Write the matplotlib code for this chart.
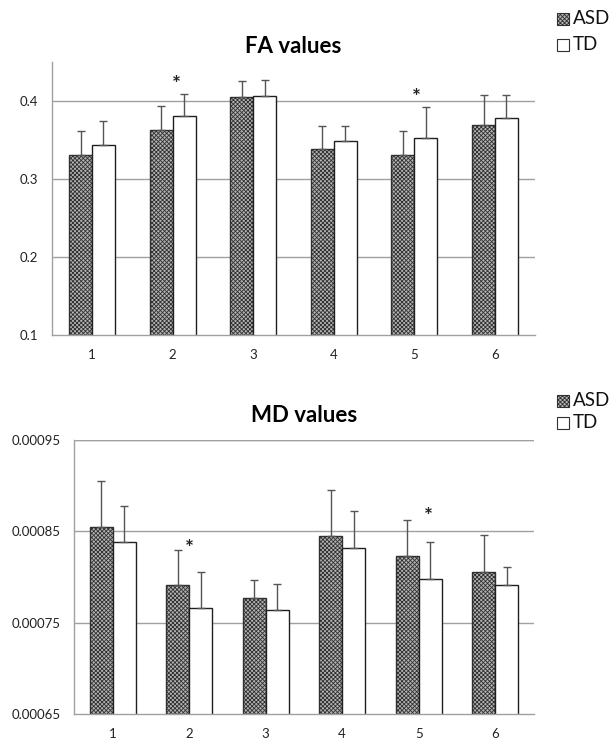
import matplotlib
matplotlib.use("Agg")
import matplotlib.pyplot as plt
from matplotlib.patches import Rectangle
import numpy as np

plt.rcParams['font.family'] = ['Lato', 'DejaVu Sans']
plt.rcParams['hatch.linewidth'] = 0.6

categories = ['1', '2', '3', '4', '5', '6']

fa_asd = [0.331, 0.362, 0.405, 0.338, 0.331, 0.369]
fa_asd_err = [0.030, 0.031, 0.020, 0.030, 0.030, 0.039]
fa_td = [0.344, 0.380, 0.406, 0.348, 0.352, 0.378]
fa_td_err = [0.030, 0.029, 0.020, 0.020, 0.040, 0.029]
fa_stars = [(2.05, 0.420), (5.02, 0.404)]

md_asd = [0.000855, 0.000791, 0.000777, 0.000845, 0.000823, 0.000806]
md_asd_err = [0.000050, 0.000039, 0.000020, 0.000050, 0.000039, 0.000040]
md_td = [0.000838, 0.000766, 0.000764, 0.000832, 0.000798, 0.000791]
md_td_err = [0.000040, 0.000040, 0.000029, 0.000040, 0.000040, 0.000020]
md_stars = [(2.0, 0.000831), (5.13, 0.000866)]

W, H = 612, 739
fig = plt.figure(figsize=(W / 100, H / 100), dpi=100)

ASD_FC = '#b4b4b4'
ASD_HATCH = 'xxxxxxxx'


def px_axes(left, top, right, bottom):
    return fig.add_axes([left / W, 1 - bottom / H, (right - left) / W, (bottom - top) / H])


def draw(ax, asd, asd_err, td, td_err, ylim, yticks, yticklabels, title, stars, width, title_pad):
    x = np.arange(1, len(categories) + 1)
    ax.set_xlim(0.5, len(categories) + 0.5)
    ax.set_ylim(*ylim)
    for yt in yticks[1:]:
        ax.axhline(yt, color='#a0a0a0', lw=1.0, zorder=0)
    ax.bar(x - width / 2, asd, width, facecolor=ASD_FC, edgecolor='#303030',
           hatch=ASD_HATCH, linewidth=1.0, zorder=2)
    ax.bar(x + width / 2, td, width, facecolor='white', edgecolor='#202020',
           linewidth=1.0, zorder=2)
    ax.errorbar(x - width / 2, asd, yerr=[np.zeros(len(asd)), asd_err], fmt='none',
                ecolor='#555555', elinewidth=1.0, capsize=3, capthick=1.0, zorder=3)
    ax.errorbar(x + width / 2, td, yerr=[np.zeros(len(td)), td_err], fmt='none',
                ecolor='#555555', elinewidth=1.0, capsize=3, capthick=1.0, zorder=3)
    for sx, sy in stars:
        ax.text(sx, sy, '*', ha='center', va='center', fontsize=15, fontweight='bold',
                color='#222222', zorder=4)
    ax.set_yticks(yticks)
    ax.set_yticklabels(yticklabels, fontsize=9.5)
    ax.set_xticks(x)
    ax.set_xticklabels(categories, fontsize=9.5)
    ax.tick_params(axis='both', length=0, pad=10, colors='#222222')
    for s in ['top', 'right']:
        ax.spines[s].set_visible(False)
    for s in ['left', 'bottom']:
        ax.spines[s].set_color('#a0a0a0')
        ax.spines[s].set_linewidth(1.0)
    ax.set_title(title, fontsize=16, fontweight='bold', pad=title_pad)


ax1 = px_axes(51.7, 61.7, 535.3, 335.3)
draw(ax1, fa_asd, fa_asd_err, fa_td, fa_td_err, (0.1, 0.45),
     [0.1, 0.2, 0.3, 0.4], ['0.1', '0.2', '0.3', '0.4'], 'FA values', fa_stars, 0.285, 6)

ax2 = px_axes(74.3, 440.0, 533.5, 714.3)
draw(ax2, md_asd, md_asd_err, md_td, md_td_err, (0.00065, 0.00095),
     [0.00065, 0.00075, 0.00085, 0.00095], ['0.00065', '0.00075', '0.00085', '0.00095'],
     'MD values', md_stars, 0.30, 13)
ax2.axhline(0.00095, color='#a0a0a0', lw=1.0, zorder=0)


def legend(y_asd, y_td):
    sq = 12
    for y, lab, fc, hatch in [(y_asd, 'ASD', ASD_FC, ASD_HATCH), (y_td, 'TD', 'white', None)]:
        r = Rectangle((557 / W, 1 - (y + sq / 2) / H), sq / W, sq / H, transform=fig.transFigure,
                      facecolor=fc, edgecolor='#303030', hatch=hatch, linewidth=0.8)
        fig.add_artist(r)
        fig.text(573 / W, 1 - y / H, lab, fontsize=13.5, va='center', ha='left', color='#111111')


legend(19, 45)
legend(401, 423)

fig.savefig('out.png', dpi=100)
